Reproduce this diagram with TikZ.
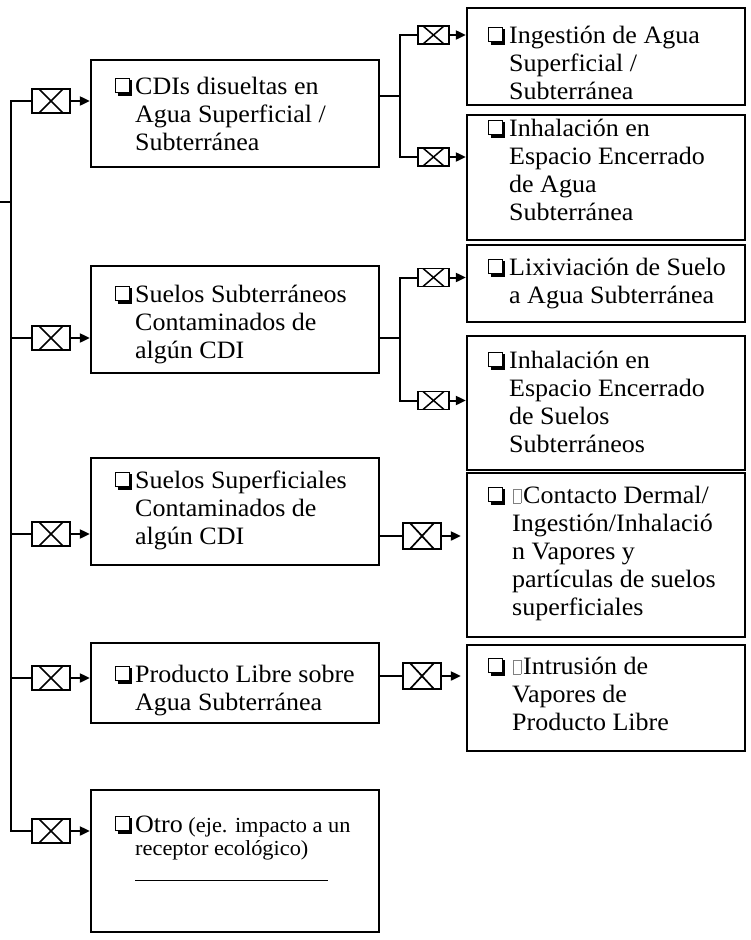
\documentclass[tikz,border=0pt]{standalone}
\usepackage{fontspec}
\setmainfont{Liberation Serif}[FakeStretch=1.04]
\usetikzlibrary{arrows.meta,fit}
\newcommand\ckb{\raisebox{-1.5pt}{\setlength{\unitlength}{1pt}\begin{picture}(17,18)
\put(0,2.5){\rule{14.5pt}{1pt}}
\put(0,17){\rule{14.5pt}{1pt}}
\put(0,2.5){\rule{1pt}{15.5pt}}
\put(13.5,2.5){\rule{1pt}{15.5pt}}
\put(2.5,0){\rule{14.5pt}{2.8pt}}
\put(14.2,0){\rule{2.8pt}{15.5pt}}
\end{picture}}}
\newcommand\tbx{{\setlength{\unitlength}{1pt}\begin{picture}(11,15)
\color{gray}
\put(1,0){\rule{8pt}{0.5pt}}
\put(1,13.5){\rule{8pt}{0.5pt}}
\put(1,0){\rule{0.5pt}{14pt}}
\put(8.5,0){\rule{0.5pt}{14pt}}
\end{picture}}}
\newcommand\fst{\rule{0pt}{22pt}}
\tikzset{
  mbox/.style={draw, line width=2.3pt, inner sep=0pt},
  txt/.style={anchor=north west, inner sep=0pt, align=left, font=\fontsize{25}{28}\selectfont},
  conn/.style={line width=2pt},
  arr/.style={line width=2pt, -{Triangle[length=10pt,width=9pt]}},
  xl/.style={draw, line width=2pt, minimum width=38pt, minimum height=24pt, inner sep=0pt,
    path picture={\draw[line width=1.7pt]
      ([xshift=7pt]path picture bounding box.north west) -- ([xshift=-7pt]path picture bounding box.south east)
      ([xshift=-7pt]path picture bounding box.north east) -- ([xshift=7pt]path picture bounding box.south west);}},
  xs/.style={draw, line width=1.8pt, minimum width=31pt, minimum height=18pt, inner sep=0pt,
    path picture={\draw[line width=1.5pt]
      ([xshift=5pt]path picture bounding box.north west) -- ([xshift=-5pt]path picture bounding box.south east)
      ([xshift=-5pt]path picture bounding box.north east) -- ([xshift=5pt]path picture bounding box.south west);}}
}
\begin{document}
\begin{tikzpicture}[x=1pt,y=-1pt]
\useasboundingbox (0,0) rectangle (751,940);
% main left boxes
\node[mbox, fit={(91,60) (379,167)}] (L1) {};
\node[mbox, fit={(91,266) (379,373)}] (L2) {};
\node[mbox, fit={(91,458) (379,565)}] (L3) {};
\node[mbox, fit={(91,643) (379,723)}] (L4) {};
\node[mbox, fit={(91,790) (379,932)}] (L5) {};
% right boxes
\node[mbox, fit={(467,8) (745,105)}] (R1) {};
\node[mbox, fit={(467,115) (745,240)}] (R2) {};
\node[mbox, fit={(467,245) (745,322)}] (R3) {};
\node[mbox, fit={(467,336) (745,470)}] (R4) {};
\node[mbox, fit={(467,473) (745,637)}] (R5) {};
\node[mbox, fit={(467,645) (745,751)}] (R6) {};
% texts
\node[txt] (tL1) at (135,72) {\fst\llap{\ckb\kern3pt}CDIs disueltas en\\Agua Superficial /\\Subterr\'anea};
\node[txt] (tL2) at (135,280) {\fst\llap{\ckb\kern3pt}Suelos Subterr\'aneos\\Contaminados de\\alg\'un CDI};
\node[txt] (tL3) at (135,466) {\fst\llap{\ckb\kern3pt}Suelos Superficiales\\Contaminados de\\alg\'un CDI};
\node[txt] (tL4) at (135,660) {\fst\llap{\ckb\kern3pt}Producto Libre sobre\\Agua Subterr\'anea};
\node[anchor=base west, inner sep=0pt, font=\fontsize{25}{28}\selectfont] (tL5a) at (135,832) {\llap{\ckb\kern3pt}Otro{\fontsize{21.5}{23}\selectfont{} (eje. impacto a un}};
\node[anchor=base west, inner sep=0pt, font=\fontsize{21.5}{23}\selectfont] (tL5b) at (135,855) {receptor ecol\'ogico)};
\draw[line width=0.9pt] (tL5b.west |- 0,880) coordinate (u1) -- (u1 -| 328,0) coordinate (u2);
\node[txt] (tR1) at (509,21) {\fst\llap{\ckb\kern4pt}Ingesti\'on de Agua\\Superficial /\\Subterr\'anea};
\node[txt] (tR2) at (509,114) {\fst\llap{\ckb\kern4pt}Inhalaci\'on en\\Espacio Encerrado\\de Agua\\Subterr\'anea};
\node[txt] (tR3) at (509,253) {\fst\llap{\ckb\kern4pt}Lixiviaci\'on de Suelo\\a Agua Subterr\'anea};
\node[txt] (tR4) at (509,346) {\fst\llap{\ckb\kern4pt}Inhalaci\'on en\\Espacio Encerrado\\de Suelos\\Subterr\'aneos};
\node[txt] (tR5) at (512,481) {\fst\llap{\ckb\kern7pt}\tbx Contacto Dermal/\\Ingesti\'on/Inhalaci\'o\\n Vapores y\\part\'iculas de suelos\\superficiales};
\node[txt] (tR6) at (512,652) {\fst\llap{\ckb\kern7pt}\tbx Intrusi\'on de\\Vapores de\\Producto Libre};
% left X boxes
\node[xl] (XL1) at (51,101) {};
\node[xl] (XL2) at (51,338) {};
\node[xl] (XL3) at (51,534) {};
\node[xl] (XL4) at (51,678) {};
\node[xl] (XL5) at (51,831) {};
% middle X boxes
\node[xl, minimum height=26pt] (XM3) at (422,536) {};
\node[xl, minimum height=26pt] (XM4) at (422,676) {};
% right small X boxes
\node[xs] (XR1) at (433.5,35) {};
\node[xs] (XR2) at (433.5,157) {};
\node[xs] (XR3) at (433.5,277.5) {};
\node[xs] (XR4) at (433.5,400.5) {};
% trunk
\coordinate (T) at (11,0);
\coordinate (S) at (0,202);
\draw[conn] (S) -- (S -| T);
\draw[conn] (XL1.west) -- (XL1.west -| T) -- (XL5.west -| T) -- (XL5.west);
\draw[conn] (XL2.west -| T) -- (XL2.west);
\draw[conn] (XL3.west -| T) -- (XL3.west);
\draw[conn] (XL4.west -| T) -- (XL4.west);
\draw[arr] (XL1.east) -- (XL1.east -| L1.west);
\draw[arr] (XL2.east) -- (XL2.east -| L2.west);
\draw[arr] (XL3.east) -- (XL3.east -| L3.west);
\draw[arr] (XL4.east) -- (XL4.east -| L4.west);
\draw[arr] (XL5.east) -- (XL5.east -| L5.west);
% branches
\coordinate (B) at (400,0);
\draw[conn] ([yshift=17.5pt]L1.east) -- ([yshift=17.5pt]L1.east -| B);
\draw[conn] (XR1.west) -- (XR1.west -| B) -- (XR2.west -| B) -- (XR2.west);
\draw[conn] ([yshift=-18.5pt]L2.east) -- ([yshift=-18.5pt]L2.east -| B);
\draw[conn] (XR3.west) -- (XR3.west -| B) -- (XR4.west -| B) -- (XR4.west);
\draw[arr] (XR1.east) -- (XR1.east -| R1.west);
\draw[arr] (XR2.east) -- (XR2.east -| R2.west);
\draw[arr] (XR3.east) -- (XR3.east -| R3.west);
\draw[arr] (XR4.east) -- (XR4.east -| R4.west);
\draw[conn] (XM3.west -| L3.east) -- (XM3.west);
\draw[conn] (XM4.west -| L4.east) -- (XM4.west);
\draw[arr] (XM3.east) -- ([xshift=-5pt]XM3.east -| R5.west);
\draw[arr] (XM4.east) -- ([xshift=-5pt]XM4.east -| R6.west);
\end{tikzpicture}
\end{document}
